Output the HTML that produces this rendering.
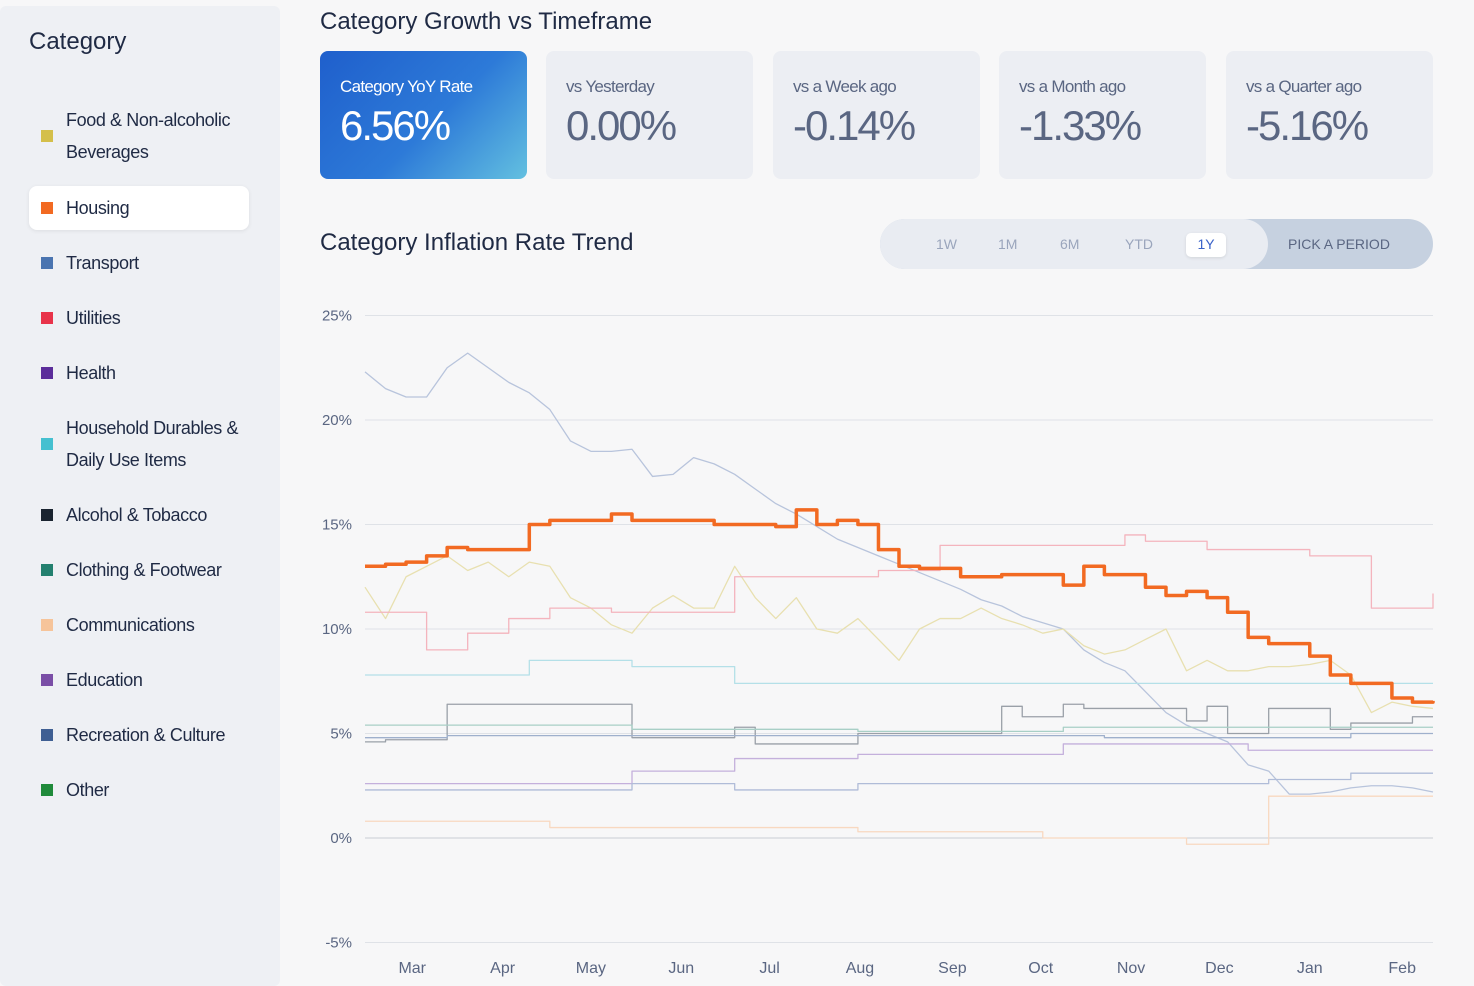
<!DOCTYPE html>
<html><head><meta charset="utf-8">
<style>
*{box-sizing:border-box;margin:0;padding:0}
body{width:1474px;height:986px;background:#f7f7f8;font-family:"Liberation Sans",sans-serif;position:relative;overflow:hidden;color:#1f2a44}
#side{position:absolute;left:0;top:6px;width:280px;height:980px;background:#eef0f4;border-radius:6px}
#side h2{position:absolute;left:29px;top:22px;font-size:24px;font-weight:normal;color:#1f2a44}
.cat{position:absolute;left:29px;width:220px;font-size:18px;color:#1f2a44;line-height:32px;padding-left:37px;letter-spacing:-0.4px}
.cat i{position:absolute;left:12px;width:12px;height:12px}
.cat.sel{background:#fff;border-radius:8px;box-shadow:0 1px 4px rgba(0,0,0,.08);height:44px;line-height:44px}
h1{position:absolute;left:320px;top:8px;font-size:24px;font-weight:normal;color:#1f2a44}
.card{position:absolute;top:51px;width:207px;height:128px;background:#eceef3;border-radius:8px;padding:26px 20px;color:#5a6682}
.card .l{font-size:17px;letter-spacing:-0.7px}
.card .v{font-size:42px;margin-top:5px;letter-spacing:-2px}
#c0{background:linear-gradient(135deg,#1f5fcc 0%,#2d7ad8 55%,#63c0e0 100%);color:#fff}
h3{position:absolute;left:320px;top:229px;font-size:24px;font-weight:normal;color:#1f2a44}
#per{position:absolute;left:880px;top:219px;width:553px;height:50px;border-radius:25px;background:#c6d1e0}
#per .in{position:absolute;left:0;top:0;width:388px;height:50px;border-radius:25px;background:#e9ecf2}
#per span{position:absolute;top:17px;font-size:14px;color:#9aa5bc}
</style></head><body>
<div id="side">
<h2>Category</h2>
<div class="cat" style="top:98px"><i style="background:#d4bf4a;top:26px"></i>Food &amp; Non-alcoholic<br>Beverages</div>
<div class="cat sel" style="top:180px"><i style="background:#f26a22;top:16px"></i>Housing</div>
<div class="cat" style="top:241px"><i style="background:#4a74b0;top:10px"></i>Transport</div>
<div class="cat" style="top:296px"><i style="background:#e8334a;top:10px"></i>Utilities</div>
<div class="cat" style="top:351px"><i style="background:#5b2d9a;top:10px"></i>Health</div>
<div class="cat" style="top:406px"><i style="background:#45c0d0;top:26px"></i>Household Durables &amp;<br>Daily Use Items</div>
<div class="cat" style="top:493px"><i style="background:#1a2430;top:10px"></i>Alcohol &amp; Tobacco</div>
<div class="cat" style="top:548px"><i style="background:#23806f;top:10px"></i>Clothing &amp; Footwear</div>
<div class="cat" style="top:603px"><i style="background:#f6c49a;top:10px"></i>Communications</div>
<div class="cat" style="top:658px"><i style="background:#7a4ea6;top:10px"></i>Education</div>
<div class="cat" style="top:713px"><i style="background:#3f5f93;top:10px"></i>Recreation &amp; Culture</div>
<div class="cat" style="top:768px"><i style="background:#1f8a3a;top:10px"></i>Other</div>
</div>
<h1>Category Growth vs Timeframe</h1>
<div class="card" id="c0" style="left:320px"><div class="l">Category YoY Rate</div><div class="v">6.56%</div></div>
<div class="card" style="left:546px"><div class="l">vs Yesterday</div><div class="v">0.00%</div></div>
<div class="card" style="left:773px"><div class="l">vs a Week ago</div><div class="v">-0.14%</div></div>
<div class="card" style="left:999px"><div class="l">vs a Month ago</div><div class="v">-1.33%</div></div>
<div class="card" style="left:1226px"><div class="l">vs a Quarter ago</div><div class="v">-5.16%</div></div>
<h3>Category Inflation Rate Trend</h3>
<div id="per">
<div class="in"></div>
<span style="left:56px">1W</span>
<span style="left:118px">1M</span>
<span style="left:180px">6M</span>
<span style="left:245px">YTD</span>
<span style="left:306px;top:14px;width:40px;height:24px;padding-top:3px;text-align:center;background:#fff;border-radius:5px;color:#3a62c8;box-shadow:0 1px 3px rgba(0,0,0,.1)">1Y</span>
<span style="left:408px;color:#5a6682">PICK A PERIOD</span>
</div>
<svg id="chart" width="1474" height="986" style="position:absolute;left:0;top:0"></svg>
<script>
const yTicks=[25,20,15,10,5,0,-5];
const months=["Mar","Apr","May","Jun","Jul","Aug","Sep","Oct","Nov","Dec","Jan","Feb"];
const monthWeeks=[2.3,6.7,11,15.4,19.7,24.1,28.6,32.9,37.3,41.6,46,50.5];
const housing=[13.0,13.1,13.2,13.5,13.9,13.8,13.8,13.8,15.0,15.2,15.2,15.2,15.5,15.2,15.2,15.2,15.2,15.0,15.0,15.0,14.9,15.7,15.0,15.2,15.0,13.8,13.0,12.9,12.9,12.5,12.5,12.6,12.6,12.6,12.1,13.0,12.6,12.6,12.0,11.6,11.8,11.5,10.8,9.6,9.3,9.3,8.7,7.8,7.4,7.4,6.7,6.5,6.56];
const transport=[22.3,21.5,21.1,21.1,22.5,23.2,22.5,21.8,21.3,20.5,19.0,18.5,18.5,18.6,17.3,17.4,18.2,17.9,17.4,16.7,16.0,15.5,14.9,14.3,13.9,13.5,13.1,12.7,12.3,11.9,11.4,11.1,10.6,10.3,10.0,9.0,8.4,8.0,7.0,6.0,5.4,5.0,4.6,3.5,3.2,2.1,2.1,2.2,2.4,2.5,2.5,2.4,2.2];
const food=[12.0,10.5,12.5,13.0,13.5,12.8,13.2,12.5,13.2,13.0,11.5,11.0,10.2,9.8,11.0,11.6,11.0,11.0,13.0,11.5,10.5,11.5,10.0,9.8,10.5,9.5,8.5,10.0,10.5,10.5,11.0,10.5,10.2,9.8,10.0,9.2,8.8,9.0,9.5,10.0,8.0,8.5,8.0,8.0,8.2,8.2,8.3,8.5,7.8,6.0,6.5,6.3,6.2];
const utilities=[10.8,10.8,10.8,9.0,9.0,9.8,9.8,10.5,10.5,11.0,11.0,11.0,10.8,10.8,10.8,10.8,10.8,10.8,12.5,12.5,12.5,12.5,12.5,12.5,12.5,12.8,12.8,12.8,14.0,14.0,14.0,14.0,14.0,14.0,14.0,14.0,14.0,14.5,14.2,14.2,14.2,13.8,13.8,13.8,13.8,13.8,13.5,13.5,13.5,11.0,11.0,11.0,11.7];
const household=[7.8,7.8,7.8,7.8,7.8,7.8,7.8,7.8,8.5,8.5,8.5,8.5,8.5,8.2,8.2,8.2,8.2,8.2,7.4,7.4,7.4,7.4,7.4,7.4,7.4,7.4,7.4,7.4,7.4,7.4,7.4,7.4,7.4,7.4,7.4,7.4,7.4,7.4,7.4,7.4,7.4,7.4,7.4,7.4,7.4,7.4,7.4,7.4,7.4,7.4,7.4,7.4,7.4];
const alcohol=[4.6,4.7,4.7,4.7,6.4,6.4,6.4,6.4,6.4,6.4,6.4,6.4,6.4,4.8,4.8,4.8,4.8,4.8,5.3,4.5,4.5,4.5,4.5,4.5,5.0,5.0,5.0,5.0,5.0,5.0,5.0,6.3,5.8,5.8,6.4,6.2,6.2,6.2,6.2,6.2,5.6,6.3,5.0,5.0,6.2,6.2,6.2,5.2,5.5,5.5,5.5,5.8,5.8];
const clothing=[5.4,5.4,5.4,5.4,5.4,5.4,5.4,5.4,5.4,5.4,5.4,5.4,5.4,5.2,5.2,5.2,5.2,5.2,5.2,5.2,5.2,5.2,5.2,5.2,5.1,5.1,5.1,5.1,5.1,5.1,5.1,5.1,5.1,5.1,5.3,5.3,5.3,5.3,5.3,5.3,5.3,5.3,5.3,5.3,5.3,5.3,5.3,5.3,5.3,5.3,5.3,5.3,5.3];
const recreation=[4.8,4.8,4.8,4.8,4.9,4.9,4.9,4.9,4.9,4.9,4.9,4.9,4.9,4.9,4.9,4.9,4.9,4.9,4.9,4.9,4.9,4.9,4.9,4.9,4.9,4.9,4.9,4.9,4.9,4.9,4.9,4.9,4.9,4.9,4.9,4.9,4.8,4.8,4.8,4.8,4.8,4.8,4.8,4.8,4.8,4.8,4.8,4.8,5.0,5.0,5.0,5.0,5.0];
const education=[2.6,2.6,2.6,2.6,2.6,2.6,2.6,2.6,2.6,2.6,2.6,2.6,2.6,3.2,3.2,3.2,3.2,3.2,3.8,3.8,3.8,3.8,3.8,3.8,4.0,4.0,4.0,4.0,4.0,4.0,4.0,4.0,4.0,4.0,4.5,4.5,4.5,4.5,4.5,4.5,4.5,4.5,4.5,4.2,4.2,4.2,4.2,4.2,4.2,4.2,4.2,4.2,4.2];
const health=[2.3,2.3,2.3,2.3,2.3,2.3,2.3,2.3,2.3,2.3,2.3,2.3,2.3,2.6,2.6,2.6,2.6,2.6,2.3,2.3,2.3,2.3,2.3,2.3,2.6,2.6,2.6,2.6,2.6,2.6,2.6,2.6,2.6,2.6,2.6,2.6,2.6,2.6,2.6,2.6,2.6,2.6,2.6,2.6,2.8,2.8,2.8,2.8,3.1,3.1,3.1,3.1,3.1];
const comms=[0.8,0.8,0.8,0.8,0.8,0.8,0.8,0.8,0.8,0.5,0.5,0.5,0.5,0.5,0.5,0.5,0.5,0.5,0.5,0.5,0.5,0.5,0.5,0.5,0.3,0.3,0.3,0.3,0.3,0.3,0.3,0.3,0.3,0.0,0.0,0.0,0.0,0.0,0.0,0.0,-0.3,-0.3,-0.3,-0.3,2.0,2.0,2.0,2.0,2.0,2.0,2.0,2.0,2.0];
const series=[
 {name:"transport",d:transport,c:"#b8c4dc",w:1.3,step:false},
 {name:"food",d:food,c:"#e8e0b0",w:1.3,step:false},
 {name:"utilities",d:utilities,c:"#f4b4bd",w:1.3,step:true},
 {name:"household",d:household,c:"#b4e0e8",w:1.3,step:true},
 {name:"alcohol",d:alcohol,c:"#9aa0a8",w:1.3,step:true},
 {name:"clothing",d:clothing,c:"#a8cfc6",w:1.3,step:true},
 {name:"recreation",d:recreation,c:"#9fb0cc",w:1.3,step:true},
 {name:"education",d:education,c:"#c4b0dc",w:1.3,step:true},
 {name:"health",d:health,c:"#b0bcd8",w:1.3,step:true},
 {name:"communications",d:comms,c:"#f8d8c0",w:1.3,step:true},
 {name:"housing",d:housing,c:"#f26a22",w:3.5,step:true}
];
const NS="http://www.w3.org/2000/svg",svg=document.getElementById('chart');
const x=w=>365+w*(1068/52), y=v=>838-v*20.9;
function mk(t,a){const e=document.createElementNS(NS,t);for(const k in a)e.setAttribute(k,a[k]);svg.appendChild(e);return e;}
yTicks.forEach(v=>{
 const l=mk('line',{x1:365,x2:1433,y1:y(v),y2:y(v),stroke:v===0?'#c8ccd4':'#dfe2e7','stroke-width':1});
 
 
 const t=mk('text',{x:352,y:y(v)+5,'text-anchor':'end','font-size':15,fill:'#5a6682','font-family':'Liberation Sans, sans-serif'});
 t.textContent=v+'%';
 
 
});
months.forEach((m,i)=>{
 const t=mk('text',{x:x(monthWeeks[i]),y:973,'text-anchor':'middle','font-size':16,fill:'#5a6682','font-family':'Liberation Sans, sans-serif'});
 t.textContent=m;
 
 
});
series.forEach(s=>{
 let p='';
 s.d.forEach((v,i)=>{
  if(i===0)p+='M'+x(0)+' '+y(v);
  else if(s.step)p+=' L'+x(i)+' '+y(s.d[i-1])+' L'+x(i)+' '+y(v);
  else p+=' L'+x(i)+' '+y(v);
 });
 const e=mk('path',{d:p,fill:'none',stroke:s.c,'stroke-width':s.w,'stroke-linejoin':'round'});
 
 
});
</script>
</body></html>
